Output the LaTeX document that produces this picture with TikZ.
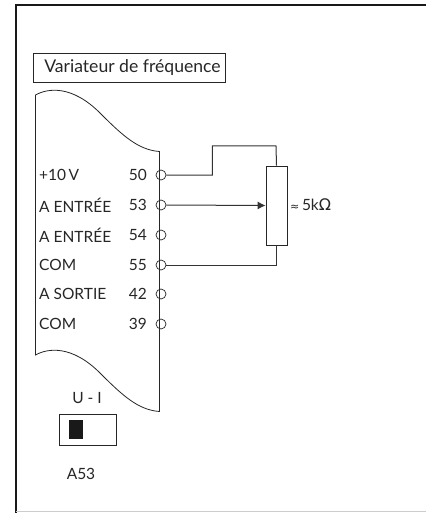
\documentclass[tikz,border=0pt]{standalone}
\usepackage{fontspec}
\setmainfont{Lato}
\newfontfamily\symbfont{DejaVu Sans}
\usetikzlibrary{positioning,arrows.meta}
\tikzset{
  terminal/.style={draw=black!85,circle,inner sep=0pt,minimum size=10pt,line width=0.7pt},
  termlabel/.style={inner sep=0pt,font=\fontsize{15.5}{15.5}\selectfont,text=black!85},
  wire/.style={line width=1pt,draw=black!80},
}
\begin{document}
\begin{tikzpicture}[x=1pt,y=-1pt]
\useasboundingbox (0,0) rectangle (426,513);
\draw[line width=2pt,draw=black!90] (15.5,513) -- (15.5,5) -- (426,5);
\draw[line width=0.8pt,draw=black!20] (15.5,511.5) -- (426,511.5);
\node[draw=black!85,line width=0.8pt,minimum width=192pt,minimum height=29pt,inner sep=0pt,font=\fontsize{17.6}{17.6}\selectfont,text=black!85] (title) at (129,67.5) {\hspace{7pt}Variateur de fréquence};
\draw[line width=0.8pt,draw=black!85]
  (35.5,95) .. controls (48,88) and (72,85) .. (100,113) .. controls (122,135) and (138,150) .. (159.5,151.5)
  -- (159.5,411.5) .. controls (138,410) and (122,395) .. (100,373) .. controls (72,345) and (48,348) .. (35.5,355) -- cycle;
\foreach \num/\ypos/\txt in {50/175/{+10\,V},53/205/{A ENTRÉE},54/235/{A ENTRÉE},55/265/COM,42/294/{A SORTIE},39/324/COM}{
  \node[terminal] (term\num) at (161,\ypos) {};
  \node[termlabel,anchor=east] (num\num) at (147,\ypos) {\num};
  \node[termlabel,anchor=west] (name\num) at (39,\ypos) {\txt};
}
\node[draw=black!85,line width=0.8pt,minimum width=21pt,minimum height=79pt,inner sep=0pt] (pot) at (276.5,205.5) {};
\node[termlabel,anchor=west] (potval) at (290,205) {{\symbfont\fontsize{11}{11}\selectfont ≈}\,5k{\symbfont\fontsize{16}{16}\selectfont Ω}};
\draw[wire] (term50.east) -- ++(46,0) |- (276,146) -- (pot.north);
\draw[wire,-{Latex[length=8pt,width=8pt]}] (term53.east) -- (pot.west);
\draw[wire] (term55.east) -| (pot.south);
\node[termlabel] (ulabel) at (87,398) {U - I};
\node[draw=black!85,line width=0.8pt,minimum width=57pt,minimum height=31pt,inner sep=0pt] (switch) at (87.5,429.5) {};
\node[fill=black!90,minimum width=14pt,minimum height=19pt,inner sep=0pt] (slider) at (76,429.5) {};
\node[termlabel] (switchname) at (81,474) {A53};
\end{tikzpicture}
\end{document}
